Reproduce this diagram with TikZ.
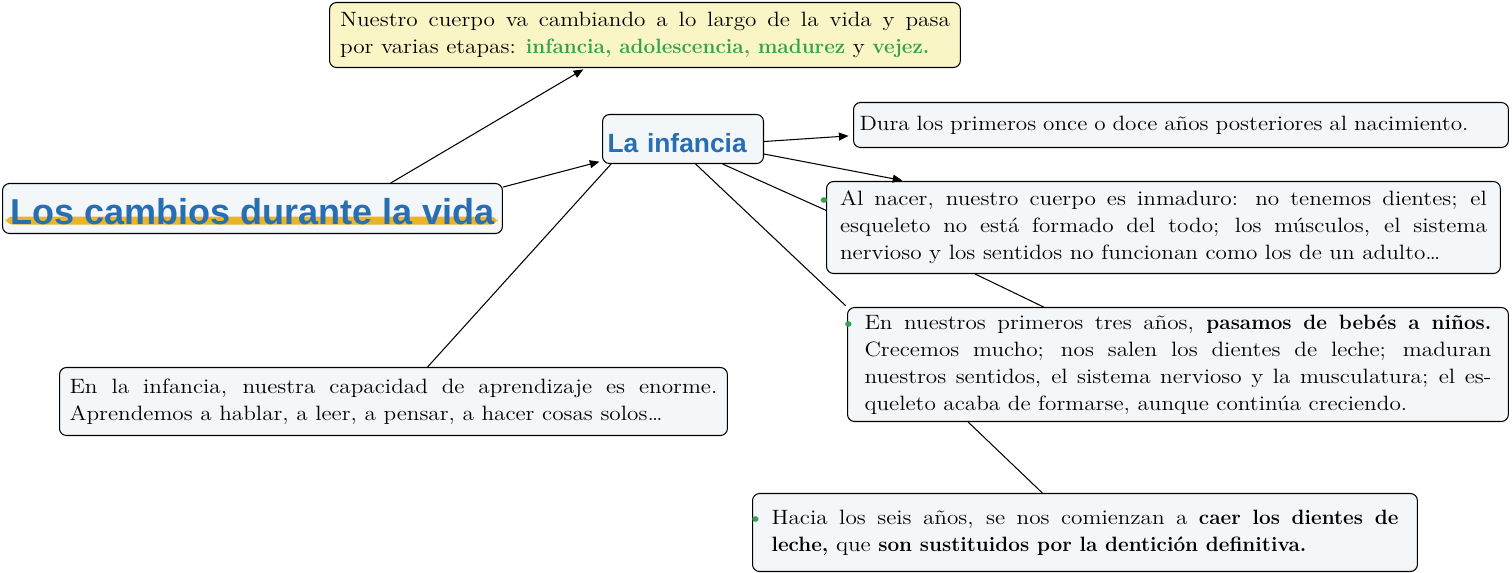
\documentclass[tikz,border=0pt]{standalone}
\usepackage{fontspec}
\setmainfont[FakeStretch=1.12]{Latin Modern Roman}
\newfontfamily\negritafam{Latin Modern Roman}
\setsansfont{Liberation Sans}
\usetikzlibrary{arrows.meta,calc}
\definecolor{azul}{RGB}{40,110,178}
\definecolor{verde}{RGB}{56,160,80}
\definecolor{amarillo}{RGB}{233,180,40}
\definecolor{fondo}{RGB}{243,247,249}
\definecolor{fondoam}{RGB}{250,245,196}
\newcommand{\negr}[1]{{\negritafam\bfseries #1}}
\newcommand{\verde}[1]{\textcolor{verde}{\negr{#1}}}
\newcommand{\punto}{\leavevmode\llap{\textcolor{verde}{\textbullet}\hspace{0.35em}}}
\tikzset{
  caja/.style={draw, line width=0.6pt, rounded corners=4pt, fill=fondo, anchor=north west,
    inner ysep=0pt, align=justify, font=\fontsize{11.8}{15.4}\selectfont},
  flecha/.style={line width=0.6pt, -{Triangle[length=5.5pt,width=4.5pt]}, shorten >=1.5pt},
  linea/.style={line width=0.6pt}
}
\begin{document}
\begin{tikzpicture}[x=0.02cm, y=-0.02cm]
  \useasboundingbox (0,0) rectangle (1512,573);
  % title and main topic
  \node[caja, font=\sffamily\bfseries\fontsize{20.5}{24}\selectfont, text=azul, align=left,
    minimum width=10cm, minimum height=1cm, inner xsep=0.12cm, text height=0.82cm, text depth=0.18cm,
    path picture={\fill[amarillo] ($(path picture bounding box.south west)+(0.06cm,0.18cm)$)
      rectangle ($(path picture bounding box.south east)+(-0.1cm,0.34cm)$);}]
    (titulo) at (2,183) {Los cambios durante la vida};
  \node[caja, font=\sffamily\bfseries\fontsize{15}{18}\selectfont, text=azul, align=left,
    text width=3.02cm, inner xsep=0.1cm, minimum height=0.98cm, text height=0.76cm, text depth=0.22cm]
    (infancia) at (602,114) {La infancia};
  % boxes
  \node[caja, fill=fondoam, text width=12.2cm, inner xsep=0.21cm, minimum height=1.3cm]
    (etapas) at (329,2) {Nuestro cuerpo va cambiando a lo largo de la vida y pasa\linebreak
    por varias etapas: \verde{infancia, adolescencia, madurez} y \verde{vejez.}};
  \node[caja, align=left, text width=12.86cm, inner xsep=0.12cm, minimum height=0.9cm]
    (dura) at (853,102) {Dura los primeros once o doce años posteriores al nacimiento.};
  \node[caja, text width=12.94cm, inner xsep=0.27cm, minimum height=1.84cm]
    (nacer) at (826,181) {\punto Al nacer, nuestro cuerpo es inmaduro: no tenemos dientes; el\linebreak
    esqueleto no está formado del todo; los músculos, el sistema\linebreak
    nervioso y los sentidos no funcionan como los de un adulto\dots};
  \node[caja, text width=12.54cm, inner xsep=0.34cm, minimum height=2.28cm]
    (nuestros) at (847,307) {\punto En nuestros primeros tres años, \negr{pasamos de bebés a niños.}\linebreak
    Crecemos mucho; nos salen los dientes de leche; maduran\linebreak
    nuestros sentidos, el sistema nervioso y la musculatura; el es-\linebreak
    queleto acaba de formarse, aunque continúa creciendo.};
  \node[caja, text width=12.54cm, inner xsep=0.38cm, minimum height=1.56cm]
    (hacia) at (752,493) {\punto Hacia los seis años, se nos comienzan a \negr{caer los dientes de}\linebreak
    \negr{leche,} que \negr{son sustituidos por la dentición definitiva.}};
  \node[caja, text width=12.96cm, inner xsep=0.2cm, minimum height=1.36cm]
    (aprende) at (59,367) {En la infancia, nuestra capacidad de aprendizaje es enorme.\linebreak
    Aprendemos a hablar, a leer, a pensar, a hacer cosas solos\dots};
  % arrows
  \draw[flecha] ($(titulo.north west)!0.776!(titulo.north east)$) -- ($(etapas.south west)!0.406!(etapas.south east)$);
  \draw[flecha] ($(titulo.north east)!0.08!(titulo.south east)$) -- ($(infancia.south west)!0.06!(infancia.north west)$);
  \draw[flecha, shorten >=2.5pt] ($(infancia.north east)!0.55!(infancia.south east)$) -- ($(dura.north west)!0.73!(dura.south west)$);
  \draw[flecha] ($(infancia.north east)!0.8!(infancia.south east)$) -- ($(nacer.north west)!0.117!(nacer.north east)$);
  % plain lines
  \draw[linea] ($(infancia.south west)!0.745!(infancia.south east)$) -- ($(nacer.north west)!0.315!(nacer.south west)$);
  \draw[linea, shorten >=1pt] ($(infancia.south west)!0.578!(infancia.south east)$) -- (nuestros.north west);
  \draw[linea] ($(nacer.south west)!0.221!(nacer.south east)$) -- ($(nuestros.north west)!0.297!(nuestros.north east)$);
  \draw[linea] ($(nuestros.south west)!0.183!(nuestros.south east)$) -- ($(hacia.north west)!0.436!(hacia.north east)$);
  \draw[linea] ($(infancia.south west)!0.056!(infancia.south east)$) -- ($(aprende.north west)!0.551!(aprende.north east)$);
\end{tikzpicture}
\end{document}
